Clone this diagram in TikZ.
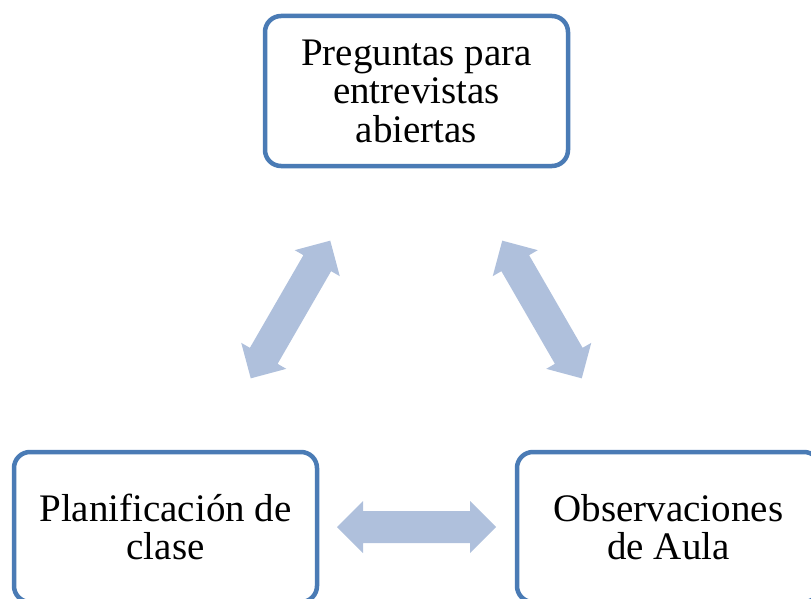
\documentclass[tikz,border=0pt]{standalone}
\usepackage{fontspec}
\setmainfont{Liberation Serif}
\definecolor{boxblue}{RGB}{74,123,181}
\definecolor{arrowfill}{RGB}{175,192,220}
\begin{document}
\begin{tikzpicture}[x=1pt,y=-1pt,
 box/.style={draw=boxblue, line width=4.5pt, rounded corners=16pt, fill=white,
   minimum width=303pt, minimum height=150pt, align=center,
   font=\fontsize{39}{38.5}\selectfont, inner sep=0pt},
 blockarrow/.style={fill=arrowfill, draw=none}]
\useasboundingbox (0,0) rectangle (811,599);
\node[box] (top) at (416.5,91) {Preguntas para\\entrevistas\\abiertas};
\node[box] (left) at (165.5,527) {Planificación de\\clase};
\node[box] (right) at (668.5,527) {Observaciones\\de Aula};
\foreach \cx/\cy/\ang in {290.5/309.5/60, 542/309.5/-60, 416.5/527/0}{
  \begin{scope}[shift={(\cx,\cy)}, rotate=\ang]
    \fill[blockarrow] (-79.5,0) -- (-53.5,26) -- (-53.5,16) -- (53.5,16) -- (53.5,26)
      -- (79.5,0) -- (53.5,-26) -- (53.5,-16) -- (-53.5,-16) -- (-53.5,-26) -- cycle;
  \end{scope}
}
\end{tikzpicture}
\end{document}
